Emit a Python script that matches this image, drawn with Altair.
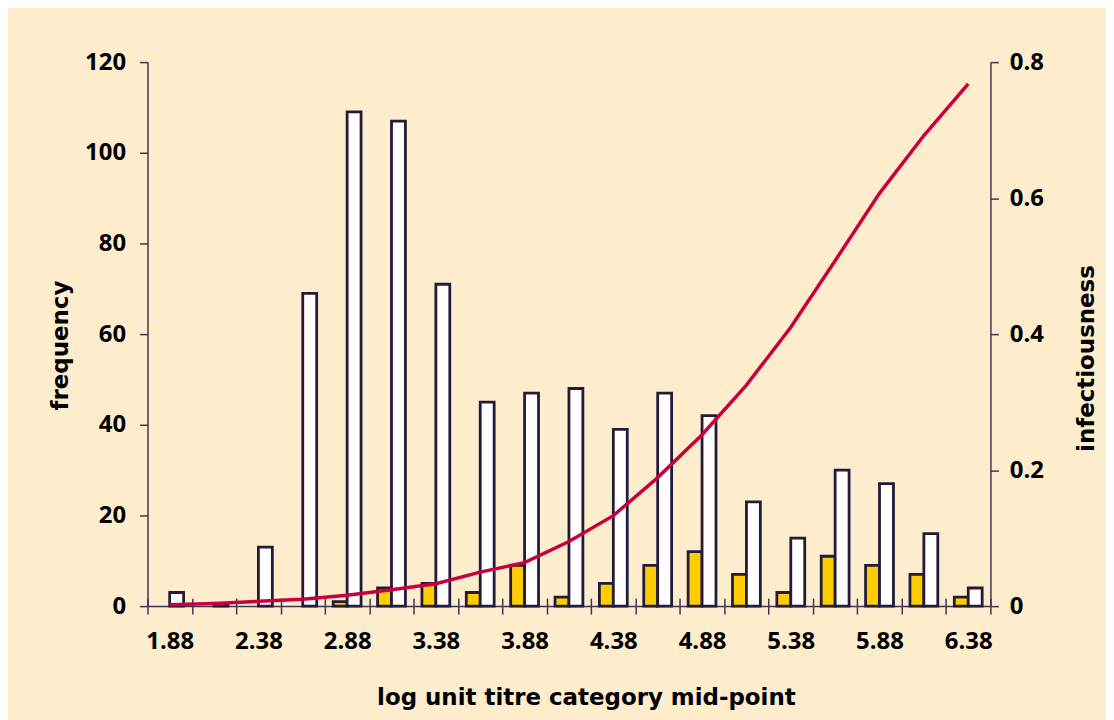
import json
import altair as alt
import pandas as pd

# ---- data ----
categories = ["1.88", "2.13", "2.38", "2.63", "2.88", "3.13", "3.38", "3.63", "3.88", "4.13",
              "4.38", "4.63", "4.88", "5.13", "5.38", "5.63", "5.88", "6.13", "6.38"]
yellow_freq = [0, 0, 0, 0, 1, 4, 5, 3, 9, 2, 5, 9, 12, 7, 3, 11, 9, 7, 2]
white_freq = [3, 0.5, 13, 69, 109, 107, 71, 45, 47, 48, 39, 47, 42, 23, 15, 30, 27, 16, 4]
infectiousness = [0.002, 0.004, 0.007, 0.010, 0.016, 0.024, 0.033, 0.050, 0.064, 0.095,
                  0.133, 0.189, 0.252, 0.325, 0.410, 0.508, 0.607, 0.692, 0.768]
x_tick_labels = ["1.88", "2.38", "2.88", "3.38", "3.88", "4.38", "4.88", "5.38", "5.88", "6.38"]
freq_ticks = [0, 20, 40, 60, 80, 100, 120]
inf_ticks = [0, 0.2, 0.4, 0.6, 0.8]

rows = []
for c, yv, wv in zip(categories, yellow_freq, white_freq):
    rows.append({"cat": c, "series": "a", "freq": yv})
    rows.append({"cat": c, "series": "b", "freq": wv})
bars_df = pd.DataFrame(rows)
line_df = pd.DataFrame({"cat": categories, "inf": infectiousness})

BG = "#FDEDCC"
DARK = "#231B3B"
AXIS = "#3E3556"
LABEL_FONT = "Open Sans"
TITLE_FONT = "DejaVu Sans"

x_scale = alt.Scale(domain=categories, paddingInner=0, paddingOuter=0)
label_expr = f"indexof({json.dumps(x_tick_labels)}, datum.value) >= 0 ? datum.label : ''"

bars = alt.Chart(bars_df).transform_filter("datum.freq > 0").mark_bar(
    stroke=DARK, strokeWidth=2.8, strokeJoin="miter"
).encode(
    x=alt.X("cat:N", sort=categories, scale=x_scale,
            axis=alt.Axis(title="log unit titre category mid-point", labelExpr=label_expr,
                          tickBand="extent", labelAngle=0, labelOverlap=False, labelFlush=False,
                          tickSize=8, labelPadding=16, domainColor=AXIS, tickColor=AXIS,
                          domainWidth=1.5, tickWidth=1.5,
                          titleX=440, titleY=99, titleBaseline="alphabetic", titleAlign="center")),
    xOffset=alt.XOffset("series:N", scale=alt.Scale(domain=["a", "b"], paddingInner=0, paddingOuter=0.592)),
    y=alt.Y("freq:Q", scale=alt.Scale(domain=[0, 120], nice=False),
            axis=alt.Axis(values=freq_ticks, title="frequency", tickSize=8, labelPadding=14,
                          domainColor=AXIS, tickColor=AXIS, domainWidth=1.5, tickWidth=1.5,
                          grid=False, titleAngle=-90, titleX=-80, titleY=284,
                          titleBaseline="alphabetic", titleAlign="center")),
    fill=alt.Fill("series:N", scale=alt.Scale(domain=["a", "b"], range=["#FFCC00", "#FFFFFF"]), legend=None),
)

line = alt.Chart(line_df).mark_line(color="#C8003C", strokeWidth=3.5).encode(
    x=alt.X("cat:N", sort=categories, scale=x_scale,
            axis=alt.Axis(orient="bottom", offset=-8, domain=False, labels=False, title=None,
                          tickBand="extent", tickSize=8, tickColor=AXIS, tickWidth=1.5)),
    y=alt.Y("inf:Q", scale=alt.Scale(domain=[0, 0.8], nice=False),
            axis=alt.Axis(orient="right", values=inf_ticks, format="~g", title="infectiousness",
                          tickSize=8, labelPadding=11, domainColor=AXIS, tickColor=AXIS,
                          domainWidth=1.5, tickWidth=1.5, grid=False,
                          titleAngle=-90, titleX=103, titleY=297,
                          titleBaseline="alphabetic", titleAlign="center")),
)

chart = alt.layer(bars, line).resolve_scale(y="independent").resolve_axis(x="independent").properties(
    width=846, height=546,
    autosize=alt.AutoSizeParams(type="none"),
    padding={"left": 140, "top": 53, "right": 116, "bottom": 113},
    background=BG,
).configure_view(stroke=None).configure_axis(
    labelFont=LABEL_FONT, labelFontSize=24, labelFontWeight="bold", labelColor="#000000",
    titleFont=TITLE_FONT, titleFontSize=23, titleFontWeight="bold", titleColor="#000000",
)

chart.save("out.html", embed_options={"renderer": "svg", "actions": False})
